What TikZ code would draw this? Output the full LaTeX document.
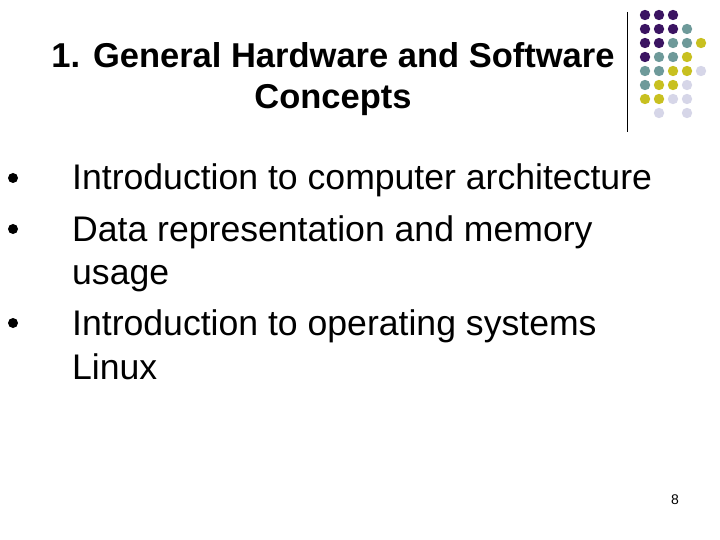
\documentclass[tikz,border=0pt]{standalone}
\usepackage{fontspec}
\setmainfont{Liberation Sans}
\definecolor{cP}{HTML}{3B1462}
\definecolor{cT}{HTML}{6E9A9A}
\definecolor{cY}{HTML}{C8C020}
\definecolor{cL}{HTML}{D6D6E8}
\begin{document}
\begin{tikzpicture}[x=1pt,y=-1pt,
  txt/.style={anchor=base west,inner sep=0,font=\fontsize{35.6}{40}\selectfont},
  bul/.style={circle,fill=black,inner sep=0,minimum size=10}]
\useasboundingbox (0,0) rectangle (720,540);
\node[align=center,font=\bfseries\fontsize{34.5}{41}\selectfont] (title) at (333,79) {1. General Hardware and Software\\Concepts};
\draw[line width=1] (627,12) -- (627,132);
\foreach \row/\cols in {0/{P,P,P},1/{P,P,P,T},2/{P,P,T,T,Y},3/{P,T,T,Y},4/{T,T,Y,Y,L},5/{T,Y,Y,L},6/{Y,Y,L,L}}{
  \foreach \c [count=\i from 0] in \cols {
    \fill[c\c] (645+14*\i,15+14*\row) circle (5.2);
  }
}
\fill[cL] (659,113) circle (5.2);
\fill[cL] (687,113) circle (5.2);
\node[bul] (b1) at (13,178) {};
\node[txt] (t1) at (72,190) {Introduction to computer architecture};
\node[bul] (b2) at (13,229) {};
\node[txt] (t2) at (72,241) {Data representation and memory};
\node[txt] (t3) at (72,284) {usage};
\node[bul] (b3) at (13,323) {};
\node[txt] (t4) at (72,335) {Introduction to operating systems};
\node[txt] (t5) at (72,379) {Linux};
\node[font=\fontsize{14}{16}\selectfont] (pg) at (675,500) {8};
\end{tikzpicture}
\end{document}
